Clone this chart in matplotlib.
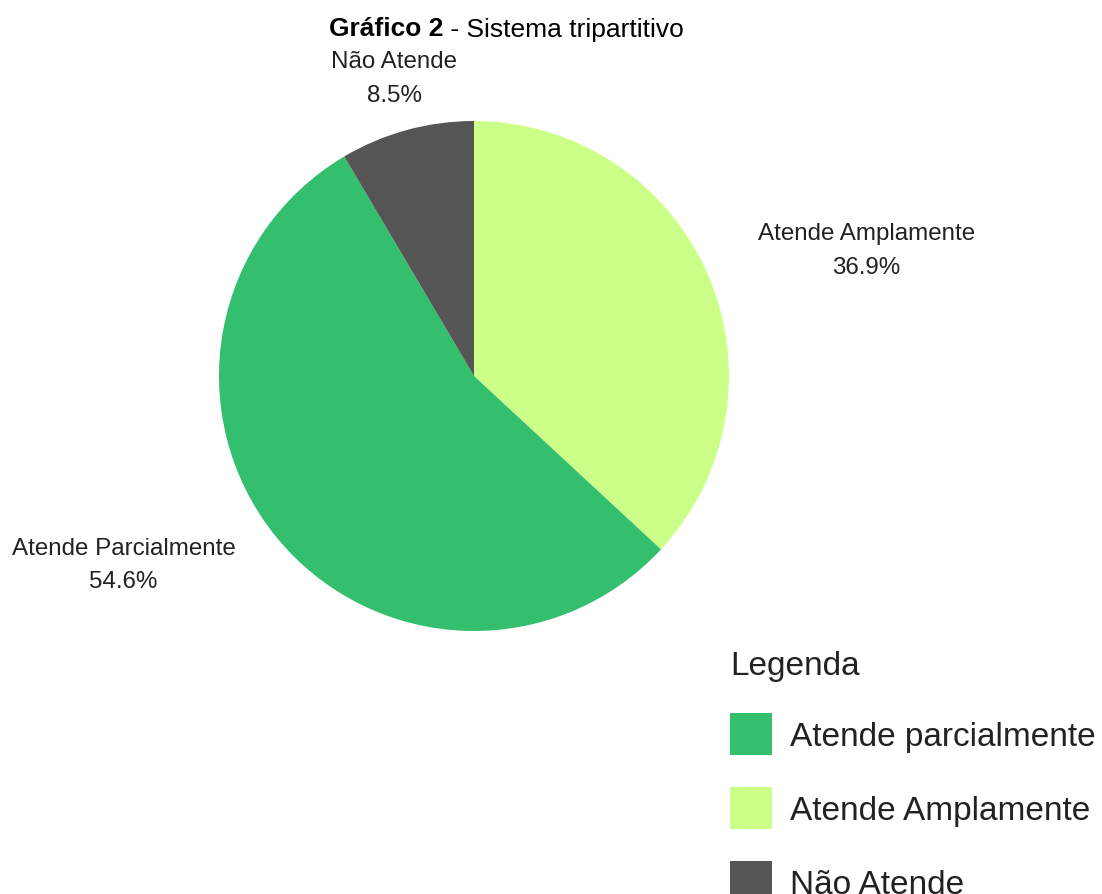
#!/usr/bin/env python3

import numpy as np
import matplotlib
matplotlib.use('Agg')
import matplotlib.pyplot as plt
from matplotlib.patches import Patch

plt.rcParams['font.family'] = ['Liberation Sans', 'DejaVu Sans']

######################
# dados
######################
categorias = ['Atende Amplamente', 'Atende Parcialmente', 'Não Atende']
valores = [36.9, 54.6, 8.5]
cores = ['#ccff88', '#33bf6e', '#555555']

legenda_labels = ['Atende parcialmente', 'Atende Amplamente', 'Não Atende']
legenda_cores = ['#33bf6e', '#ccff88', '#555555']

# posicao dos rotulos: raio e desvio angular em relacao ao meio da fatia
rot_raio = [1.615, 1.561, 1.21]
rot_dtheta = [-5.8, -10.6, -0.3]

W, H = 1102, 895
fig = plt.figure(figsize=(W/100, H/100), dpi=100)

# pizza: centro (474,377) px, raio 255 px
cx, cy, r = 474, H - 377, 255
ax = fig.add_axes([(cx - r)/W, (cy - r)/H, 2*r/W, 2*r/H])
wedges, _ = ax.pie(valores, colors=cores, startangle=90, counterclock=False,
                   radius=1, wedgeprops=dict(linewidth=0))
ax.set_xlim(-1, 1)
ax.set_ylim(-1, 1)
ax.set_aspect('equal')
ax.axis('off')

for w, cat, val, rr, dt in zip(wedges, categorias, valores, rot_raio, rot_dtheta):
    ang = np.deg2rad((w.theta1 + w.theta2)/2 + dt)
    ax.text(rr*np.cos(ang), rr*np.sin(ang), '%s\n%.1f%%' % (cat, val),
            ha='center', va='center', fontsize=17.4, color='#222222',
            linespacing=1.68)

# titulo (parte em negrito + resto)
t1 = fig.text(329/W, 1 - 36.5/H, 'Gráfico 2', fontsize=19, weight='bold',
              ha='left', va='baseline', color='black')
ax.annotate(' - Sistema tripartitivo', xy=(1, 0), xycoords=t1,
            ha='left', va='bottom', fontsize=19, color='black',
            annotation_clip=False)

# legenda
handles = [Patch(facecolor=c, edgecolor='none') for c in legenda_cores]
leg = fig.legend(handles, legenda_labels, title='Legenda', loc='upper left',
                 bbox_to_anchor=(730/W, 1 - 651/H), frameon=False,
                 fontsize=24, title_fontsize=24, alignment='left',
                 handlelength=1.26, handleheight=1.56, handletextpad=0.54,
                 labelspacing=0.96, borderpad=0, borderaxespad=0)
for t in leg.get_texts():
    t.set_color('#222222')
leg.get_title().set_color('#222222')

plt.savefig('out.png', dpi=100)
